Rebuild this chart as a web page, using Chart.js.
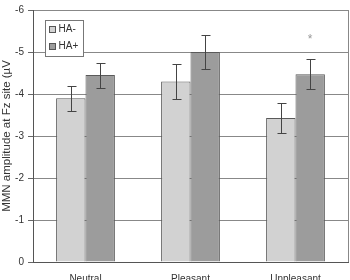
<!DOCTYPE html>
<html>
<head>
<meta charset="utf-8">
<script src="https://cdn.jsdelivr.net/npm/chart.js@4"></script>
<style>
  html, body { margin: 0; padding: 0; background: #fff; }
  #wrap { width: 350px; height: 280px; }
</style>
</head>
<body>
<div id="wrap"><canvas id="mmn" width="350" height="280"></canvas></div>
<script>
const categories = ['Neutral', 'Pleasant', 'Unpleasant'];
const seriesNames = ['HA-', 'HA+'];
const haMinus = [-3.9, -4.3, -3.43];
const haPlus = [-4.45, -5.0, -4.47];
const haMinusErr = [0.3, 0.41, 0.36];
const haPlusErr = [0.3, 0.41, 0.36];
const sigMarks = ['', '', '*'];
const yTicks = [0, -1, -2, -3, -4, -5, -6];

const FONT = 'Liberation Sans, Arial, sans-serif';

// error bars + asterisk
const errBars = {
  id: 'errBars',
  afterDatasetsDraw(chart) {
    const ctx = chart.ctx, y = chart.scales.y;
    const errs = [haMinusErr, haPlusErr];
    ctx.save();
    ctx.strokeStyle = '#444';
    ctx.lineWidth = 1;
    chart.data.datasets.forEach((ds, di) => {
      chart.getDatasetMeta(di).data.forEach((bar, i) => {
        const v = ds.data[i], e = errs[di][i];
        const x = Math.round(bar.x) + 0.5;
        const y1 = Math.round(y.getPixelForValue(v - e)) + 0.5;
        const y2 = Math.round(y.getPixelForValue(v + e)) + 0.5;
        ctx.beginPath();
        ctx.moveTo(x, y1); ctx.lineTo(x, y2);
        ctx.moveTo(x - 4, y1); ctx.lineTo(x + 5, y1);
        ctx.moveTo(x - 4, y2); ctx.lineTo(x + 5, y2);
        ctx.stroke();
      });
    });
    // significance marks above HA+ bars
    ctx.fillStyle = '#999';
    ctx.font = '12px ' + FONT;
    ctx.textAlign = 'center';
    ctx.textBaseline = 'middle';
    chart.getDatasetMeta(1).data.forEach((bar, i) => {
      if (!sigMarks[i]) return;
      ctx.fillText(sigMarks[i], bar.x, y.getPixelForValue(-5.3));
    });
    ctx.restore();
  },
  afterDraw(chart) {
    const ctx = chart.ctx, a = chart.chartArea;
    ctx.save();
    // right frame line
    ctx.strokeStyle = '#888';
    ctx.lineWidth = 1;
    ctx.beginPath();
    ctx.moveTo(Math.round(a.right) + 0.5, a.top);
    ctx.lineTo(Math.round(a.right) + 0.5, a.bottom);
    ctx.stroke();
    // legend box
    const lx = a.left + 12.5, ly = a.top + 10.5;
    ctx.fillStyle = '#fff';
    ctx.fillRect(lx, ly, 38, 36);
    ctx.strokeStyle = '#777';
    ctx.strokeRect(lx, ly, 38, 36);
    ctx.font = '10px ' + FONT;
    ctx.textBaseline = 'middle';
    ctx.textAlign = 'left';
    chart.data.datasets.forEach((ds, i) => {
      const cy = ly + 9 + i * 17;
      ctx.fillStyle = ds.backgroundColor;
      ctx.fillRect(lx + 4, cy - 3, 6, 6);
      ctx.strokeStyle = '#555';
      ctx.strokeRect(lx + 4, cy - 3, 6, 6);
      ctx.fillStyle = '#333';
      ctx.fillText(ds.label, lx + 13, cy);
    });
    // y axis title
    ctx.translate(7, 136);
    ctx.rotate(-Math.PI / 2);
    ctx.textAlign = 'center';
    ctx.font = '11.5px ' + FONT;
    ctx.fillStyle = '#333';
    ctx.fillText('MMN amplitude at Fz site (\u00b5V', 0, 0);
    ctx.restore();
  }
};

new Chart(document.getElementById('mmn').getContext('2d'), {
  type: 'bar',
  data: {
    labels: categories,
    datasets: [
      { label: seriesNames[0], data: haMinus, backgroundColor: '#d2d2d2', borderColor: '#5a5a5a', borderWidth: 1 },
      { label: seriesNames[1], data: haPlus, backgroundColor: '#9c9c9c', borderColor: '#5a5a5a', borderWidth: 1 }
    ]
  },
  options: {
    responsive: false,
    animation: false,
    devicePixelRatio: 1,
    layout: { padding: { left: 0, right: 2, top: 7, bottom: 0 } },
    datasets: { bar: { categoryPercentage: 0.56, barPercentage: 1 } },
    plugins: { legend: { display: false }, tooltip: { enabled: false } },
    scales: {
      x: {
        grid: { display: false },
        border: { display: true, color: '#555' },
        ticks: { color: '#333', font: { family: FONT, size: 10 }, padding: 3 },
        afterFit(s) { s.height = 18; }
      },
      y: {
        reverse: true,
        min: -6,
        max: 0,
        afterBuildTicks(s) { s.ticks = yTicks.map(v => ({ value: v })); },
        grid: { color: '#888', tickLength: 5, tickColor: '#666' },
        border: { display: true, color: '#555' },
        ticks: { color: '#333', font: { family: FONT, size: 10 }, padding: 4 },
        afterFit(s) { s.width = 33; }
      }
    }
  },
  plugins: [errBars]
});
</script>
</body>
</html>
